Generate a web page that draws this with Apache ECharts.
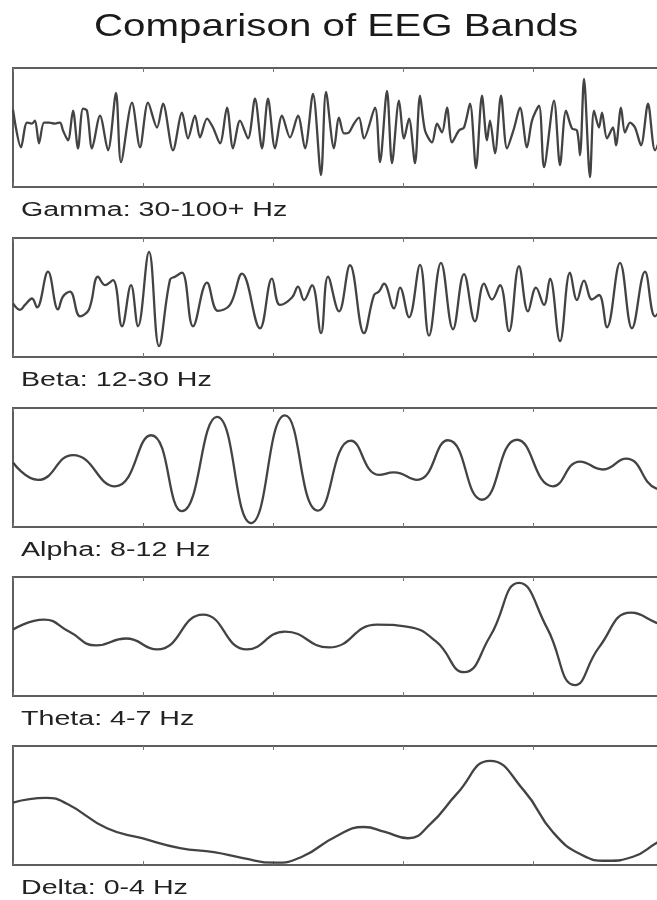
<!DOCTYPE html>
<html>
<head>
<meta charset="utf-8">
<script src="https://cdn.jsdelivr.net/npm/echarts@6/dist/echarts.min.js"></script>
<style>
html,body{margin:0;padding:0;background:#fff;}
#chart{width:657px;height:900px;}
</style>
</head>
<body>
<div id="chart"></div>
<script>
// ---- data (time in samples, amplitude in arbitrary units) ----
const chartTitle = 'Comparison of EEG Bands';
const bandLabels = ['Gamma: 30-100+ Hz', 'Beta: 12-30 Hz', 'Alpha: 8-12 Hz', 'Theta: 4-7 Hz', 'Delta: 0-4 Hz'];

const gamma = [[0,18],[8,-20],[14,5],[19,4],[22,7],[26,-16],[31,5],[36,5],[42,4],[47,5],[50,-3],[55,-13],[60,17],[65,-21],[70,19],[74,17],[79,-21],[87,12],[95,-23],[103,35],[108,-35],[119,25],[127,-20],[135,25],[144,0],[150,24],[160,-23],[169,15],[175,-11],[182,12],[187,-10],[194,9],[200,0],[207,-16],[214,20],[220,-21],[227,7],[235,-11],[242,29],[249,-21],[255,29],[262,-21],[269,12],[277,-10],[285,12],[292,-21],[300,34],[308,-48],[313,36],[321,-21],[326,10],[331,-6],[336,-5],[341,4],[346,10],[351,-11],[362,20],[367,-35],[374,37],[379,-36],[386,27],[391,-11],[396,9],[402,-36],[407,32],[412,-3],[419,-15],[424,4],[429,-5],[434,20],[439,-15],[446,-3],[451,0],[457,24],[463,-41],[469,32],[474,-13],[477,7],[482,-26],[488,32],[494,-21],[501,-1],[507,20],[514,-20],[519,7],[526,22],[531,-40],[541,27],[547,-38],[553,17],[559,-1],[564,-3],[567,-28],[571,49],[577,-50],[581,17],[586,0],[589,15],[594,-11],[600,0],[603,-18],[608,20],[612,-5],[617,5],[622,0],[628,-18],[635,24],[642,-23],[650,2]];

const beta = [[0,-6],[7,-12.5],[12,-7.5],[19,-1],[24,-10],[35,26],[45,-12],[50,1],[57,6],[67,-19],[76,-12],[85,21],[92,12.5],[100,17.5],[109,-29],[118,12.5],[125,-29],[136,46],[146,-49],[157,18],[162,21],[169,25],[180,-29],[194,15],[205,-13.5],[217,-7.5],[229,24],[247,-31],[259,19],[267,-7.5],[279,0],[285,11],[291,-2.5],[299,12.5],[308,-36],[315,21],[326,-14],[337,32.5],[351,-36],[361,2.5],[366,6],[371,14],[381,-11],[387,10],[396,-20],[407,33],[416,-38.5],[428,35],[440,-32],[451,23.5],[462,-24],[471,14],[479,-2],[487,12.5],[496,-34],[506,31.5],[515,-14],[523,10],[531,-7.5],[537,19],[547,-44],[557,25],[564,-2.5],[571,17],[579,-2],[586,2.5],[594,-30],[607,35],[619,-31],[632,26],[642,-19],[650,-5]];

const alpha = [[0,5],[25,-12.5],[60,12.5],[102,-19],[138,32.5],[169,-44],[204,51],[238,-56],[272,52.5],[305,-43.5],[338,27],[366,-7.5],[381,-5],[404,-12.5],[435,27.5],[469,-32.5],[504,28],[540,-19],[567,6],[590,-2],[613,9],[643,-21],[650,-22]];

const theta = [[0,7],[31,17],[56,5],[83,-9],[113,-2],[144,-13],[190,22],[234,-13],[272,5],[316,-11],[364,12],[395,9.7],[423,-5],[451,-36],[477,0],[506,54],[534,8.7],[562,-49],[586,-11],[618,24],[643,14],[650,10]];

const delta = [[0,3],[33,7.7],[54,1.7],[94,-23],[129,-33],[167,-43],[201,-47],[230,-53],[261,-57.7],[289,-51.7],[322,-31.7],[351,-21.7],[372,-26.7],[395,-33],[418,-18],[444,12],[477,45],[511,15],[540,-27],[569,-50],[594,-55.7],[620,-51.7],[643,-38],[650,-34]];

const bandData = [gamma, beta, alpha, theta, delta];
const xMin = 0, xMax = 650, xStep = 130;
const yMin = -60, yMax = 60;

// ---- layout / style ----
const gridTops = [68, 238, 408, 577, 746];
const gridHeight = 119;
const gridLeft = 13;
const gridWidth = 650;
const smoothing = [0.3, 0.4, 0.5, 0.5, 0.5];

const grids = [], xAxes = [], yAxes = [], series = [], graphics = [];
bandData.forEach(function (d, i) {
  grids.push({
    left: gridLeft, width: gridWidth, top: gridTops[i], height: gridHeight,
    outerBoundsMode: 'none', containLabel: false,
    show: true, borderColor: '#5e5e5e', borderWidth: 2, backgroundColor: 'transparent'
  });
  ['bottom', 'top'].forEach(function (pos) {
    xAxes.push({
      type: 'value', gridIndex: i, position: pos, min: xMin, max: xMax, interval: xStep,
      axisLine: { show: false, onZero: false },
      axisTick: { show: true, inside: true, length: 4, lineStyle: { color: '#777', width: 1 } },
      axisLabel: { show: false }, splitLine: { show: false }
    });
  });
  yAxes.push({
    type: 'value', gridIndex: i, min: yMin, max: yMax,
    axisLine: { show: false, onZero: false }, axisTick: { show: false },
    axisLabel: { show: false }, splitLine: { show: false }
  });
  series.push({
    type: 'line', name: bandLabels[i], xAxisIndex: 2 * i, yAxisIndex: i,
    data: d, smooth: smoothing[i], showSymbol: false, symbol: 'none',
    lineStyle: { color: '#434343', width: 2.3 },
    clip: true
  });
  graphics.push({
    type: 'text', x: 21, y: gridTops[i] + gridHeight + 23, scaleX: 1.43, scaleY: 1,
    style: {
      text: bandLabels[i], fill: '#222', fontSize: 20,
      fontFamily: '"Liberation Sans", Arial, sans-serif',
      align: 'left', verticalAlign: 'middle', textAlign: 'left', textVerticalAlign: 'middle'
    }
  });
});

graphics.push({
  type: 'text', x: 336, y: 27, scaleX: 1.26, scaleY: 1,
  style: {
    text: chartTitle, fill: '#1a1a1a', fontSize: 32,
    fontFamily: '"Liberation Sans", Arial, sans-serif',
    align: 'center', verticalAlign: 'middle', textAlign: 'center', textVerticalAlign: 'middle'
  }
});

const chart = echarts.init(document.getElementById('chart'), null, { renderer: 'canvas' });
chart.setOption({
  backgroundColor: '#ffffff',
  animation: false,
  grid: grids,
  xAxis: xAxes,
  yAxis: yAxes,
  series: series,
  graphic: graphics
});
</script>
</body>
</html>
